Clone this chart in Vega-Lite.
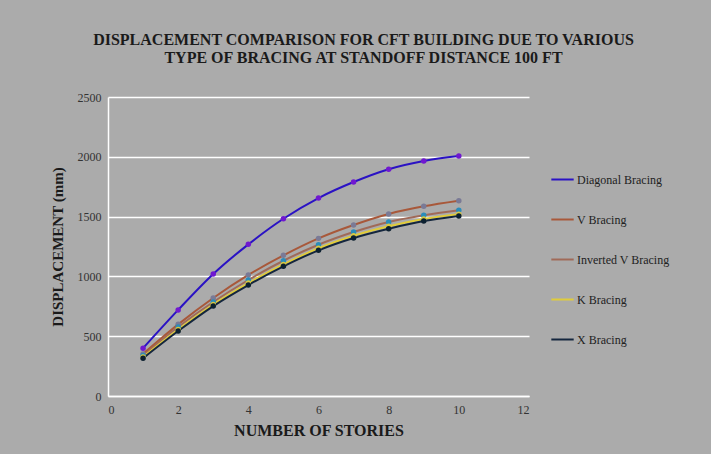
{
  "$schema": "https://vega.github.io/schema/vega-lite/v6.json",
  "width": 421,
  "height": 299,
  "padding": {"left": 50, "top": 32, "right": 41, "bottom": 16},
  "background": "#ababab",
  "title": {
    "text": ["DISPLACEMENT COMPARISON  FOR CFT BUILDING DUE TO VARIOUS", "TYPE OF BRACING AT STANDOFF  DISTANCE 100 FT"],
    "font": "Liberation Serif",
    "fontSize": 16,
    "fontWeight": "bold",
    "color": "#1a1a1a",
    "anchor": "middle",
    "dx": 45,
    "offset": 25,
    "lineHeight": 18
  },
  "config": {
    "view": {"stroke": null},
    "axis": {"labelFont": "Liberation Serif", "labelFontSize": 12, "labelColor": "#333333", "titleFont": "Liberation Serif", "titleColor": "#1a1a1a", "titleFontWeight": "bold", "ticks": false}
  },
  "data": {
    "values": [
      {"stories": 1, "series": "Diagonal Bracing", "disp": 400},
      {"stories": 2, "series": "Diagonal Bracing", "disp": 720},
      {"stories": 3, "series": "Diagonal Bracing", "disp": 1020},
      {"stories": 4, "series": "Diagonal Bracing", "disp": 1268},
      {"stories": 5, "series": "Diagonal Bracing", "disp": 1482},
      {"stories": 6, "series": "Diagonal Bracing", "disp": 1655},
      {"stories": 7, "series": "Diagonal Bracing", "disp": 1789},
      {"stories": 8, "series": "Diagonal Bracing", "disp": 1896},
      {"stories": 9, "series": "Diagonal Bracing", "disp": 1965},
      {"stories": 10, "series": "Diagonal Bracing", "disp": 2006},
      {"stories": 1, "series": "V Bracing", "disp": 352},
      {"stories": 2, "series": "V Bracing", "disp": 599},
      {"stories": 3, "series": "V Bracing", "disp": 819},
      {"stories": 4, "series": "V Bracing", "disp": 1012},
      {"stories": 5, "series": "V Bracing", "disp": 1176},
      {"stories": 6, "series": "V Bracing", "disp": 1318},
      {"stories": 7, "series": "V Bracing", "disp": 1430},
      {"stories": 8, "series": "V Bracing", "disp": 1522},
      {"stories": 9, "series": "V Bracing", "disp": 1586},
      {"stories": 10, "series": "V Bracing", "disp": 1633},
      {"stories": 1, "series": "Inverted V Bracing", "disp": 338},
      {"stories": 2, "series": "Inverted V Bracing", "disp": 577},
      {"stories": 3, "series": "Inverted V Bracing", "disp": 786},
      {"stories": 4, "series": "Inverted V Bracing", "disp": 970},
      {"stories": 5, "series": "Inverted V Bracing", "disp": 1131},
      {"stories": 6, "series": "Inverted V Bracing", "disp": 1265},
      {"stories": 7, "series": "Inverted V Bracing", "disp": 1371},
      {"stories": 8, "series": "Inverted V Bracing", "disp": 1455},
      {"stories": 9, "series": "Inverted V Bracing", "disp": 1511},
      {"stories": 10, "series": "Inverted V Bracing", "disp": 1553},
      {"stories": 1, "series": "K Bracing", "disp": 326},
      {"stories": 2, "series": "K Bracing", "disp": 556},
      {"stories": 3, "series": "K Bracing", "disp": 765},
      {"stories": 4, "series": "K Bracing", "disp": 944},
      {"stories": 5, "series": "K Bracing", "disp": 1100},
      {"stories": 6, "series": "K Bracing", "disp": 1235},
      {"stories": 7, "series": "K Bracing", "disp": 1340},
      {"stories": 8, "series": "K Bracing", "disp": 1419},
      {"stories": 9, "series": "K Bracing", "disp": 1480},
      {"stories": 10, "series": "K Bracing", "disp": 1520},
      {"stories": 1, "series": "X Bracing", "disp": 316},
      {"stories": 2, "series": "X Bracing", "disp": 543},
      {"stories": 3, "series": "X Bracing", "disp": 752},
      {"stories": 4, "series": "X Bracing", "disp": 928},
      {"stories": 5, "series": "X Bracing", "disp": 1084},
      {"stories": 6, "series": "X Bracing", "disp": 1218},
      {"stories": 7, "series": "X Bracing", "disp": 1321},
      {"stories": 8, "series": "X Bracing", "disp": 1399},
      {"stories": 9, "series": "X Bracing", "disp": 1463},
      {"stories": 10, "series": "X Bracing", "disp": 1505}
    ]
  },
  "encoding": {
    "x": {
      "field": "stories", "type": "quantitative",
      "scale": {"domain": [0, 12]},
      "axis": {"title": "NUMBER OF STORIES", "titleFontSize": 16, "titlePadding": 7, "values": [0, 2, 4, 6, 8, 10, 12], "format": "d", "grid": false, "domainColor": "white", "domainWidth": 1.5, "labelPadding": 8}
    },
    "y": {
      "field": "disp", "type": "quantitative",
      "scale": {"domain": [0, 2500]},
      "axis": {"title": "DISPLACEMENT (mm)", "titleFontSize": 15, "titlePadding": 12, "values": [0, 500, 1000, 1500, 2000, 2500], "format": "d", "gridColor": "white", "gridWidth": 1.5, "gridOpacity": 1, "domainColor": "white", "domainWidth": 1.5, "labelPadding": 7}
    }
  },
  "layer": [
    {
      "mark": {"type": "line", "interpolate": "monotone"},
      "encoding": {
        "stroke": {
          "field": "series", "type": "nominal",
          "scale": {"domain": ["Diagonal Bracing", "V Bracing", "Inverted V Bracing", "K Bracing", "X Bracing"], "range": ["#2a12c4", "#a8583a", "#a06a58", "#e0cc3a", "#14263e"]},
          "legend": {"title": null, "orient": "none", "legendX": 442, "legendY": 70, "symbolType": "stroke", "symbolSize": 500, "symbolStrokeWidth": 2, "rowPadding": 21, "labelFont": "Liberation Serif", "labelFontSize": 12, "labelColor": "#222222", "labelOffset": 2}
        },
        "strokeWidth": {
          "field": "series", "type": "nominal",
          "scale": {"domain": ["Diagonal Bracing", "V Bracing", "Inverted V Bracing", "K Bracing", "X Bracing"], "range": [2, 2, 1.2, 2, 2]},
          "legend": null
        }
      }
    },
    {
      "mark": {"type": "point", "filled": true, "opacity": 1, "size": 30},
      "encoding": {
        "fill": {
          "field": "series", "type": "nominal",
          "scale": {"domain": ["Diagonal Bracing", "V Bracing", "Inverted V Bracing", "K Bracing", "X Bracing"], "range": ["#7018d0", "#7a7a96", "#2a8cba", "#d8c840", "#0c2030"]},
          "legend": null
        }
      }
    }
  ]
}
